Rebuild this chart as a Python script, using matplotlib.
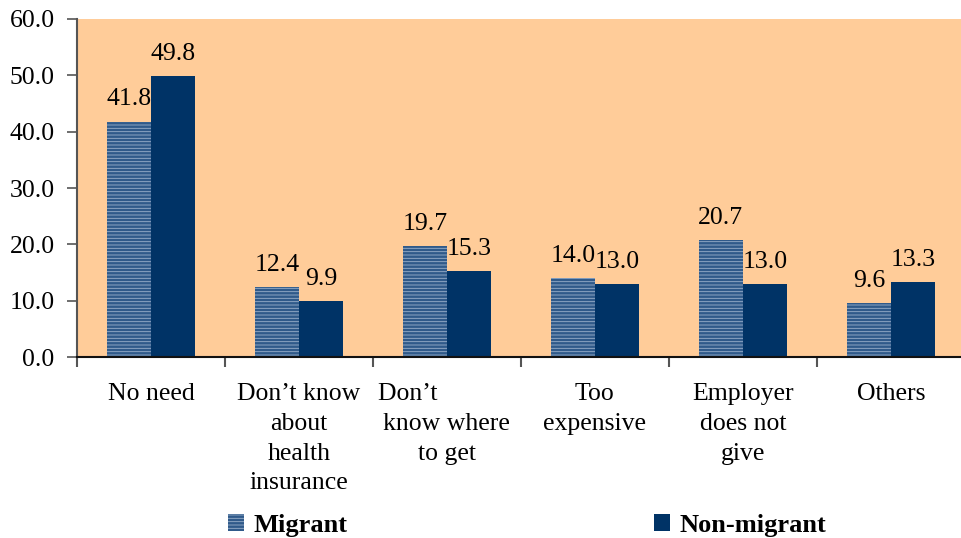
import numpy as np
import matplotlib.pyplot as plt
from matplotlib.patches import Patch

categories = ["No need", "Don\u2019t know\nabout\nhealth\ninsurance",
              "Don\u2019t            \nknow where\nto get", "Too\nexpensive",
              "Employer\ndoes not\ngive", "Others"]
migrant = [41.8, 12.4, 19.7, 14.0, 20.7, 9.6]
non_migrant = [49.8, 9.9, 15.3, 13.0, 13.0, 13.3]
yticks = [0, 10, 20, 30, 40, 50, 60]

plt.rcParams["font.family"] = ["Liberation Serif", "DejaVu Serif"]
plt.rcParams["hatch.linewidth"] = 0.6

fig = plt.figure(figsize=(9.62, 5.38), dpi=100)
ax = fig.add_axes([0.080, 0.3364, 0.923, 0.6283])
ax.set_facecolor("#FFCC99")

x = np.arange(len(categories))
w = 0.297
b1 = ax.bar(x - w / 2, migrant, w, color="#305a8a", edgecolor="#9ab0cb",
            hatch="-----", linewidth=0, label="Migrant")
b2 = ax.bar(x + w / 2, non_migrant, w, color="#003366", linewidth=0,
            label="Non-migrant")

for bars, vals in [(b1, migrant), (b2, non_migrant)]:
    for bar, v in zip(bars, vals):
        ax.annotate(f"{v:.1f}", (bar.get_x() + bar.get_width() / 2, v),
                    xytext=(0, 8), textcoords="offset points",
                    ha="center", va="bottom", fontsize=18.5)

ax.set_xlim(-0.5, len(categories) - 0.5)
ax.set_ylim(0, 60)
ax.set_yticks(yticks)
ax.set_yticklabels([f"{t:.1f}" for t in yticks], fontsize=18.5)
ax.tick_params(axis="y", length=7, width=1.2, color="#555555", pad=9)

ax.set_xticks(np.arange(len(categories) + 1) - 0.5)
ax.set_xticklabels([])
ax.tick_params(axis="x", which="major", length=7, width=1.5, color="#555555")
ax.set_xticks(x, minor=True)
ax.set_xticklabels(categories, minor=True, fontsize=18.5, linespacing=1.45)
ax.tick_params(axis="x", which="minor", length=0, pad=19)

for s in ["top", "right"]:
    ax.spines[s].set_visible(False)
ax.spines["left"].set_color("#555555")
ax.spines["left"].set_linewidth(1.5)
ax.spines["bottom"].set_color("#111111")
ax.spines["bottom"].set_linewidth(1.5)

handles = [Patch(facecolor="#305a8a", edgecolor="#9ab0cb", hatch="-----",
                 linewidth=0, label="Migrant"),
           Patch(facecolor="#003366", linewidth=0, label="Non-migrant")]
fig.legend(handles=handles, loc="center", bbox_to_anchor=(0.548, 0.024),
           ncol=2, frameon=False, prop={"weight": "bold", "size": 19},
           handlelength=0.6, handleheight=0.6, handletextpad=0.38,
           columnspacing=11.6, borderpad=0)

fig.savefig("out.png", dpi=100)
